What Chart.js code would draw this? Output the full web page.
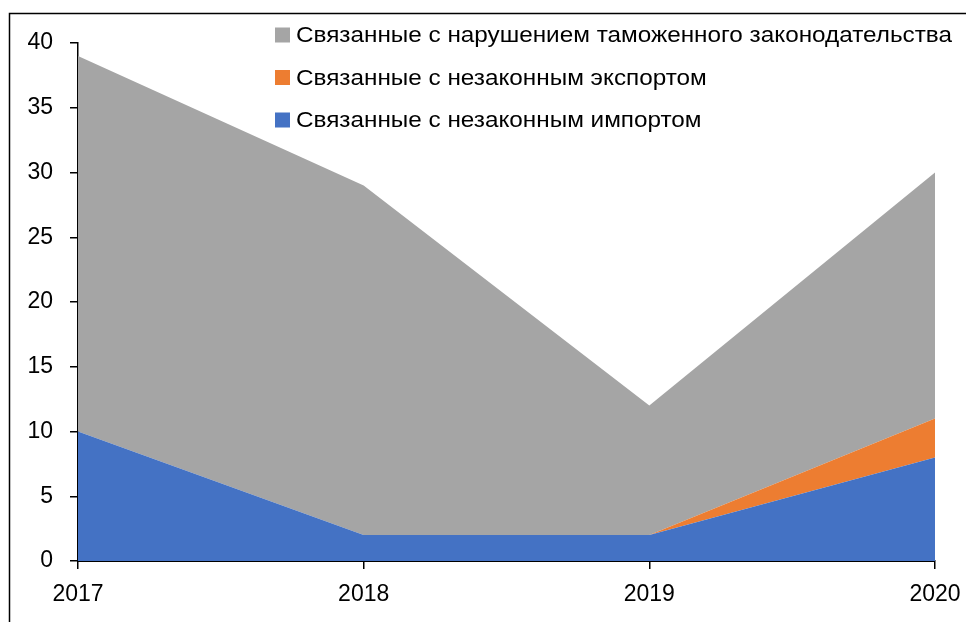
<!DOCTYPE html>
<html>
<head>
<meta charset="utf-8">
<script src="https://cdn.jsdelivr.net/npm/chart.js@4/dist/chart.umd.min.js"></script>
<style>
  html, body { margin: 0; padding: 0; background: #fff; }
  #wrap { width: 966px; height: 622px; position: relative; }
</style>
</head>
<body>
<div id="wrap"><canvas id="chart" width="966" height="622"></canvas></div>
<script>
const years = ["2017", "2018", "2019", "2020"];
const importValues = [10, 2, 2, 8];
const exportValues = [0, 0, 0, 3];
const customsValues = [29, 27, 10, 19];
const yTicks = [0, 5, 10, 15, 20, 25, 30, 35, 40];

const FONT = "'Liberation Sans', Arial, sans-serif";

// outer frame like the source picture
const framePlugin = {
  id: "frame",
  beforeDraw(chart) {
    const { ctx } = chart;
    ctx.save();
    ctx.fillStyle = "#fff";
    ctx.fillRect(0, 0, chart.width, chart.height);
    ctx.strokeStyle = "#000";
    ctx.lineWidth = 1.5;
    ctx.strokeRect(9.5, 13.5, chart.width + 10, chart.height + 10);
    ctx.restore();
  }
};

// legend drawn in reverse order in the top right corner
const legendPlugin = {
  id: "cornerLegend",
  afterDraw(chart) {
    const { ctx } = chart;
    const sets = chart.data.datasets.slice().reverse();
    ctx.save();
    ctx.font = `22px ${FONT}`;
    ctx.textBaseline = "middle";
    const sx = 656 / ctx.measureText(sets[0].label).width;
    sets.forEach((ds, i) => {
      const cy = 35 + i * 42.5;
      ctx.fillStyle = ds.backgroundColor;
      ctx.fillRect(275, cy - 7.5, 15, 15);
      ctx.fillStyle = "#000";
      ctx.save();
      ctx.translate(296, cy + 1);
      ctx.scale(sx, 1);
      ctx.fillText(ds.label, 0, 0);
      ctx.restore();
    });
    ctx.restore();
  }
};

new Chart(document.getElementById("chart"), {
  type: "line",
  data: {
    labels: years,
    datasets: [
      {
        label: "Связанные с незаконным импортом",
        data: importValues,
        backgroundColor: "#4472C4",
        borderWidth: 0,
        fill: "origin"
      },
      {
        label: "Связанные с незаконным экспортом",
        data: exportValues,
        backgroundColor: "#ED7D31",
        borderWidth: 0,
        fill: "-1"
      },
      {
        label: "Связанные с нарушением таможенного законодательства",
        data: customsValues,
        backgroundColor: "#A5A5A5",
        borderWidth: 0,
        fill: "-1"
      }
    ]
  },
  options: {
    responsive: false,
    animation: false,
    layout: { padding: { top: 43, right: 31, left: 10, bottom: 0 } },
    elements: { point: { radius: 0 }, line: { tension: 0 } },
    plugins: {
      legend: { display: false },
      tooltip: { enabled: false }
    },
    scales: {
      x: {
        offset: false,
        grid: { display: true, drawOnChartArea: false, drawTicks: true, tickLength: 8, color: "#000", lineWidth: 1.5 },
        border: { display: true, color: "#000", width: 2 },
        ticks: { color: "#000", font: { family: FONT, size: 23 }, padding: 12, maxRotation: 0 },
        afterFit(scale) {
          scale.height = 61;
          scale.paddingLeft = 0;
          scale.paddingRight = 0;
        }
      },
      y: {
        stacked: true,
        min: 0,
        max: 40,
        afterBuildTicks(scale) { scale.ticks = yTicks.map(v => ({ value: v })); },
        grid: { display: true, drawOnChartArea: false, drawTicks: true, tickLength: 8, color: "#000", lineWidth: 1.5 },
        border: { display: true, color: "#000", width: 1.5 },
        ticks: { color: "#000", font: { family: FONT, size: 23 }, padding: 17 },
        afterFit(scale) { scale.width = 68; }
      }
    }
  },
  plugins: [framePlugin, legendPlugin]
});
</script>
</body>
</html>
